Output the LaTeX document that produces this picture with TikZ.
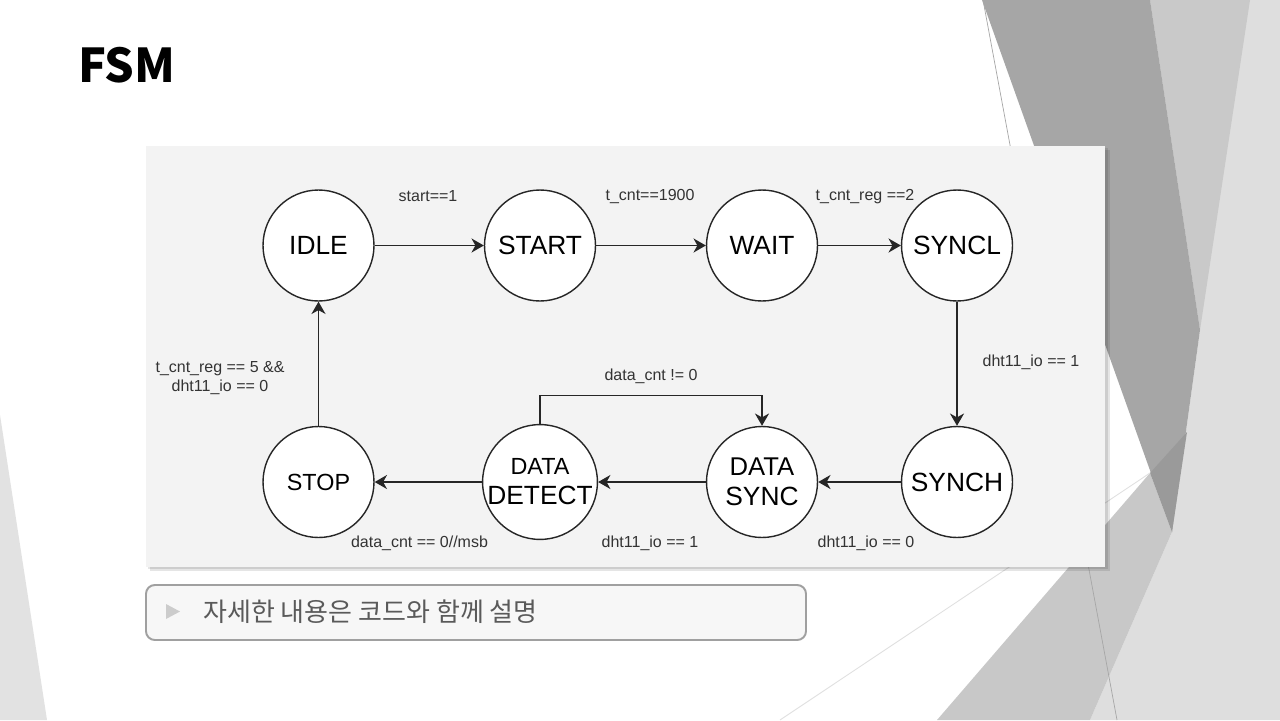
\documentclass[tikz,border=0pt]{standalone}
\usepackage{fontspec}
\setmainfont{Liberation Sans}
\newfontfamily\krfont{Noto Sans CJK KR}
\usetikzlibrary{arrows.meta}
\definecolor{panelbg}{HTML}{F3F3F3}
\definecolor{facetL}{HTML}{E2E2E2}
\definecolor{facetR}{HTML}{DEDEDE}
\definecolor{facetM}{HTML}{C9C9C9}
\definecolor{facetD}{HTML}{A6A6A6}
\definecolor{facetMid}{HTML}{C8C8C8}
\definecolor{facetDD}{HTML}{9A9A9A}
\definecolor{inkc}{HTML}{262626}
\definecolor{lblc}{HTML}{333333}
\definecolor{notec}{HTML}{5A5A5A}
\definecolor{boxline}{HTML}{A0A0A0}
\definecolor{boxfill}{HTML}{F7F7F7}
\begin{document}
\begin{tikzpicture}[x=0.02cm,y=-0.02cm,
  state/.style={circle, draw=inkc, line width=0.8pt, fill=white, minimum size=2.22cm, inner sep=0pt, align=center, text=black, font=\fontsize{15}{17}\selectfont},
  lbl/.style={font=\fontsize{9.1}{11.3}\selectfont, text=lblc, inner sep=0pt, align=center},
  arr/.style={draw=inkc, line width=0.9pt, -{Stealth[length=7pt,width=8pt,inset=2.2pt]}},
  thinline/.style={draw=black!35, line width=0.4pt}]
\useasboundingbox (0,0) rectangle (1280,720);
\fill[white] (0,0) rectangle (1280,720);
% background facets
\fill[facetL] (0,415) -- (47,720) -- (0,720) -- cycle;
\fill[facetR] (1150,0) -- (1280,0) -- (1280,720) -- (1090,720) -- (1172,532) -- (1200,330) -- cycle;
\fill[facetM] (1150,0) -- (1250,0) -- (1200,330) -- cycle;
\fill[facetD] (982,0) -- (1150,0) -- (1200,330) -- (1172,532) -- cycle;
\fill[facetMid] (937,720) -- (1150,473) -- (1172,532) -- (1090,720) -- cycle;
\fill[facetDD] (1150,473) -- (1187,432) -- (1172,532) -- cycle;
\draw[thinline] (983,0) -- (1117,720);
\draw[draw=black!12, line width=0.5pt] (780,720) -- (1150,473);
% panel with shadow
\fill[black, opacity=0.10] (150,150) rectangle (1110,571);
\fill[black, opacity=0.10] (148,148) rectangle (1108,569);
\fill[panelbg] (146,146) rectangle (1105,567);
% states
\node[state] (idle)  at (318.5,245.5) {IDLE};
\node[state] (start) at (540,245.5) {START};
\node[state] (wait)  at (762,245.5) {WAIT};
\node[state] (syncl) at (957,245.5) {SYNCL};
\node[state] (stop)  at (318.5,482) {\fontsize{13.3}{15}\selectfont STOP};
\node[state] (ddet)  at (540,482) {\fontsize{13.3}{17}\selectfont DATA\\DETECT};
\node[state] (dsync) at (762,482) {\fontsize{14.6}{18}\selectfont DATA\\SYNC};
\node[state] (synch) at (957,482) {SYNCH};
% transitions
\draw[arr] (idle) -- (start);
\draw[arr] (start) -- (wait);
\draw[arr] (wait) -- (syncl);
\draw[arr] (syncl) -- (synch);
\draw[arr] (synch) -- (dsync);
\draw[arr] (dsync) -- (ddet);
\draw[arr] (ddet) -- (stop);
\draw[arr] (stop) -- (idle);
\draw[arr] (ddet.north) -- ++(0,-28.5) -| (dsync.north);
% labels
\node[lbl] (l1) at (428,196.5) {start==1};
\node[lbl] (l2) at (650,196.5) {t\_cnt==1900};
\node[lbl] (l3) at (865,196.5) {t\_cnt\_reg ==2};
\node[lbl] (l4) at (1031,362) {dht11\_io == 1};
\node[lbl] (l5) at (866,543) {dht11\_io == 0};
\node[lbl] (l6) at (650,543) {dht11\_io == 1};
\node[lbl] (l7) at (419.5,543) {data\_cnt == 0//msb};
\node[lbl] (l8) at (220,378) {t\_cnt\_reg == 5 \&\&\\dht11\_io == 0};
\node[lbl] (l9) at (651,376.5) {data\_cnt != 0};
% note box
\draw[draw=boxline, line width=1.1pt, fill=boxfill, rounded corners=5pt] (146,585) rectangle (806,640);
\fill[black!20] (166,604) -- (180,611.5) -- (166,619) -- cycle;
\node[anchor=base west, inner sep=0pt, text=notec, font=\krfont\fontsize{14.8}{17}\selectfont] (note) at (203,621.5) {자세한 내용은 코드와 함께 설명};
% title
\node[anchor=base west, inner sep=0pt, font=\krfont\bfseries\fontsize{26.5}{30}\selectfont] (title) at (78,82) {FSM};
\end{tikzpicture}
\end{document}
